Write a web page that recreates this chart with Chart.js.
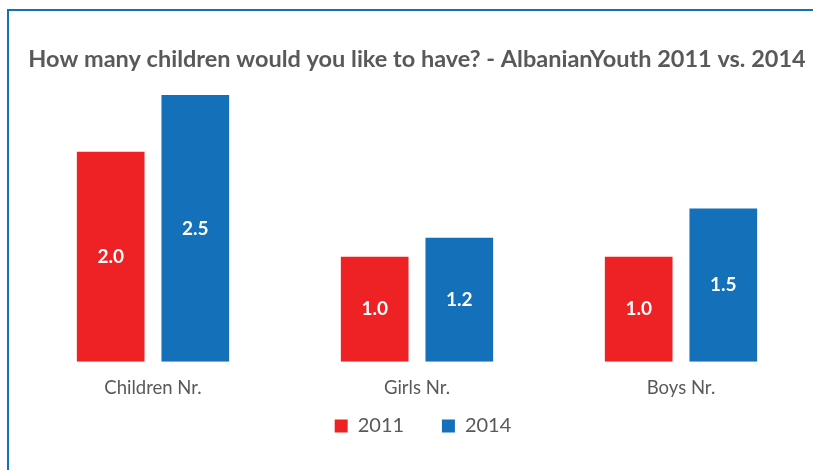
<!DOCTYPE html>
<html>
<head>
<meta charset="utf-8">
<script src="https://cdn.jsdelivr.net/npm/chart.js@4.4.1/dist/chart.umd.min.js"></script>
<style>
  html, body { margin: 0; padding: 0; background: #fff; overflow: hidden; }
  #wrap { position: relative; width: 813px; height: 470px; }
  #frame { position: absolute; left: 7px; top: 9px; width: 900px; height: 600px; border: 2.5px solid #1470B9; box-sizing: border-box; }
  canvas { position: absolute; left: 0; top: 0; }
</style>
</head>
<body>
<div id="wrap">
  <div id="frame"></div>
  <canvas id="barChart" width="813" height="470"></canvas>
</div>
<script>
// data
const categories = ['Children Nr.', 'Girls Nr.', 'Boys Nr.'];
const values2011 = [2.0, 1.0, 1.0];
const values2014 = [2.54, 1.18, 1.46];
const seriesNames = ['2011', '2014'];

const textGrey = '#595959';
const fontFamily = 'Lato, "Open Sans", sans-serif';

// white value labels in the middle of each bar
const barLabels = {
    id: 'barLabels',
    afterDatasetsDraw(chart) {
        const ctx = chart.ctx;
        ctx.save();
        ctx.fillStyle = '#ffffff';
        ctx.font = 'bold 19px ' + fontFamily;
        ctx.textAlign = 'center';
        ctx.textBaseline = 'middle';
        chart.data.datasets.forEach((ds, i) => {
            chart.getDatasetMeta(i).data.forEach((bar, j) => {
                const { x, y, base } = bar.getProps(['x', 'y', 'base'], true);
                ctx.fillText(ds.data[j].toFixed(1), x, (y + base) / 2);
            });
        });
        ctx.restore();
    }
};

// nudge the legend a little to the right, like the original
const legendShift = {
    id: 'legendShift',
    afterLayout(chart) {
        chart.legend.left += 6;
        chart.legend.right += 6;
    }
};

const ctx = document.getElementById('barChart').getContext('2d');
const barChart = new Chart(ctx, {
    type: 'bar',
    data: {
        labels: categories,
        datasets: [{
            label: seriesNames[0],
            data: values2011,
            backgroundColor: '#EE2224'
        }, {
            label: seriesNames[1],
            data: values2014,
            backgroundColor: '#1470B9'
        }]
    },
    options: {
        responsive: false,
        animation: false,
        categoryPercentage: 0.641,
        barPercentage: 0.8,
        layout: {
            padding: { left: 21, right: 0, top: 0, bottom: 24 }
        },
        scales: {
            x: {
                grid: { display: false, drawTicks: false },
                border: { display: false },
                ticks: {
                    color: textGrey,
                    padding: 15,
                    font: { family: fontFamily, size: 18.5 }
                }
            },
            y: {
                display: false,
                min: 0,
                max: 2.7
            }
        },
        plugins: {
            title: {
                display: true,
                text: 'How many children would you like to have? - AlbanianYouth 2011 vs. 2014',
                color: textGrey,
                font: { family: fontFamily, size: 23.5, weight: 'bold' },
                padding: { top: 45, bottom: 5 }
            },
            legend: {
                position: 'bottom',
                labels: {
                    boxWidth: 13,
                    boxHeight: 13,
                    padding: 2,
                    color: textGrey,
                    font: { family: fontFamily, size: 20 },
                    // extra trailing space keeps the two items apart like the original
                    generateLabels(chart) {
                        const items = Chart.defaults.plugins.legend.labels.generateLabels(chart);
                        items[0].text = items[0].text + '       ';
                        return items;
                    }
                }
            },
            tooltip: { enabled: false }
        }
    },
    plugins: [barLabels, legendShift]
});
</script>
</body>
</html>
